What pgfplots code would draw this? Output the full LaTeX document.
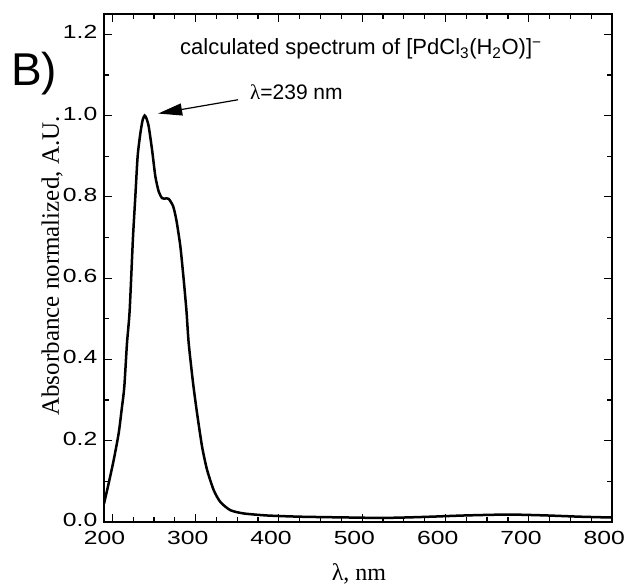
\documentclass[border=0pt]{standalone}
\usepackage{pgfplots}
\pgfplotsset{compat=1.18}
\usepackage{fontspec}
\setmainfont{Liberation Sans}
\newfontfamily\timesfont{Liberation Serif}
\usetikzlibrary{arrows.meta}

\begin{document}
\begin{tikzpicture}[x=1pt,y=1pt]
\useasboundingbox (0,0) rectangle (624,588);
\begin{axis}[
    at={(104pt,66pt)}, anchor=south west,
    scale only axis, width=508pt, height=508pt,
    xmin=190, xmax=800, ymin=0, ymax=1.25,
    xtick={200,300,400,500,600,700,800},
    minor x tick num=3,
    ytick={0,0.2,0.4,0.6,0.8,1.0,1.2},
    minor y tick num=1,
    tick align=inside,
    major tick length=8pt, minor tick length=5pt,
    axis line style={line width=1.6pt},
    every tick/.style={black, line width=1.2pt},
    tick label style={font=\fontsize{19}{19}\selectfont, xscale=1.3, inner sep=1pt},
    /pgf/number format/assume math mode=true,
    yticklabel style={xshift=-4pt, yshift=2pt, /pgf/number format/.cd, fixed, fixed zerofill, precision=1},
    xticklabel style={xshift=-6pt, yshift=-8pt, /pgf/number format/.cd, 1000 sep={}},
]

% spectrum
\addplot[black, line width=2.5pt, smooth, tension=0.4] coordinates {
    (190,0.045) (195.6,0.095) (201.6,0.152) (207.6,0.218) (211.6,0.283)
    (214.4,0.333) (217.6,0.44) (220.8,0.52) (224.8,0.70) (227.6,0.80)
    (230.4,0.90) (233.7,0.957) (236.5,0.99) (238.8,1.0) (241,0.993)
    (243.7,0.973) (247.7,0.916) (251.7,0.85) (255.7,0.813) (259.7,0.797)
    (263.7,0.796) (267.7,0.795) (273,0.777) (276.9,0.743) (281.7,0.678)
    (285.7,0.596) (289,0.52) (291.7,0.44) (297,0.341) (301.8,0.267)
    (307.8,0.185) (313.8,0.128) (321.8,0.078) (329.8,0.049) (341.8,0.029)
    (357.8,0.021) (386,0.016) (426,0.013) (486,0.011) (522,0.010)
    (550,0.011) (582,0.013) (622,0.016) (663,0.018) (687,0.018)
    (723,0.016) (762,0.013) (800,0.011)
};

\draw[-{Triangle[length=24pt,width=12pt]}, line width=1.2pt]
    (axis cs:351,1.039) -- (axis cs:255,1.005);
\end{axis}

\node[anchor=base west, inner sep=0, font=\fontsize{46}{46}\selectfont] at (11,502) {B)};
\node[anchor=base west, inner sep=0, font=\fontsize{22}{22}\selectfont] at (180,533)
    {calculated spectrum of [PdCl\textsubscript{3}(H\textsubscript{2}O)]\textsuperscript{\char"2212}};
\node[anchor=base west, inner sep=0, font=\fontsize{21}{21}\selectfont] at (250,488)
    {{\timesfont λ}=239 nm};
\node[rotate=90, inner sep=0, font=\timesfont\fontsize{25}{25}\selectfont] at (52,322)
    {Absorbance normalized, A.U.};
\node[inner sep=0, font=\timesfont\fontsize{24}{24}\selectfont] at (359,14) {λ, nm};
\end{tikzpicture}
\end{document}
